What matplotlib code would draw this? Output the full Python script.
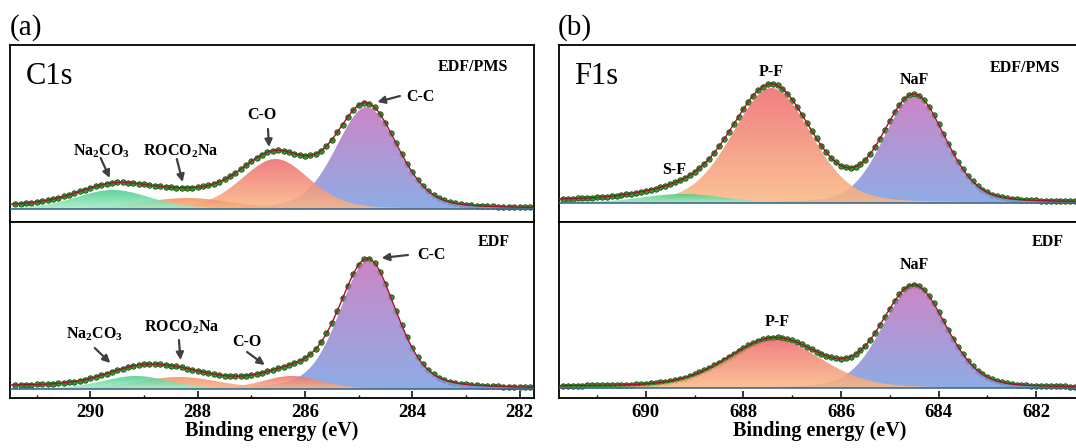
import numpy as np
import matplotlib
matplotlib.use("Agg")
import matplotlib.pyplot as plt
from matplotlib.colors import LinearSegmentedColormap
from matplotlib.ticker import MultipleLocator

plt.rcParams['font.family'] = 'serif'
plt.rcParams['font.serif'] = ['Liberation Serif', 'DejaVu Serif']
plt.rcParams['mathtext.fontset'] = 'custom'
plt.rcParams['mathtext.rm'] = 'Liberation Serif:bold'
plt.rcParams['mathtext.it'] = 'Liberation Serif:bold'
plt.rcParams['mathtext.bf'] = 'Liberation Serif:bold'

# =========================
# Peak fit parameters (counts in arbitrary units)
# =========================
c1s_xlim = (291.5, 281.73)
f1s_xlim = (691.78, 681.1)

# C1s, EDF/PMS
c1s_top_names = ['C-C', 'C-O', 'ROCO2Na', 'Na2CO3']
c1s_top_centers = [284.85, 286.55, 288.2, 289.58]
c1s_top_heights = [102, 50, 11, 19]
c1s_top_fwhm = [1.35, 1.5, 2.0, 1.65]
c1s_top_bg = 3.0

# C1s, EDF
c1s_bot_names = ['C-C', 'C-O', 'ROCO2Na', 'Na2CO3']
c1s_bot_centers = [284.83, 286.25, 288.35, 289.15]
c1s_bot_heights = [128, 13, 12, 13]
c1s_bot_fwhm = [1.25, 1.3, 1.8, 1.5]
c1s_bot_bg = 3.0

# F1s, EDF/PMS
f1s_top_names = ['NaF', 'P-F', 'S-F']
f1s_top_centers = [684.5, 687.42, 689.25]
f1s_top_heights = [106, 115, 9]
f1s_top_fwhm = [1.5, 1.9, 2.0]
f1s_top_bg = 2.5

# F1s, EDF
f1s_bot_names = ['NaF', 'P-F']
f1s_bot_centers = [684.5, 687.35]
f1s_bot_heights = [101, 48]
f1s_bot_fwhm = [1.55, 2.25]
f1s_bot_bg = 1.5

# gradient colours (bottom, top) for each species
grad_colors = {
    'C-C': ('#7c9fe2', '#c472bd'),
    'NaF': ('#7c9fe2', '#c472bd'),
    'C-O': ('#fbb983', '#ee6a6f'),
    'P-F': ('#fbb983', '#ee6a6f'),
    'ROCO2Na': ('#f8b487', '#f3905e'),
    'Na2CO3': ('#a8eccb', '#45cd86'),
    'S-F': ('#a8eccb', '#45cd86'),
}


def pseudo_voigt(E, c, h, w, eta):
    g = np.exp(-4 * np.log(2) * (E - c) ** 2 / w ** 2)
    l = 1.0 / (1 + 4 * (E - c) ** 2 / w ** 2)
    return h * ((1 - eta) * g + eta * l)


def draw_panel(ax, xlim, ylim, names, centers, heights, fwhms, bg_high, eta):
    E = np.linspace(min(xlim), max(xlim), 800)
    comps = [pseudo_voigt(E, c, h, w, eta) for c, h, w in zip(centers, heights, fwhms)]
    total = np.sum(comps, axis=0)
    # Shirley-like background rising towards high binding energy
    cum = np.concatenate([[0], np.cumsum((total[1:] + total[:-1]) / 2 * np.diff(E))])
    bg = bg_high * cum / cum[-1]
    envelope = total + bg

    # measured points every 0.1 eV
    Ed = np.arange(np.ceil(min(xlim) * 10) / 10, max(xlim), 0.1)
    ax.plot(Ed, np.interp(Ed, E, envelope), 'o', ms=3.9, mfc='#2f9a2a',
            mec='#1a531a', mew=0.6, zorder=1)

    grad = np.linspace(0, 1, 256).reshape(-1, 1)
    for name, comp, h in zip(names, comps, heights):
        poly = ax.fill_between(E, 0, comp, facecolor='none', edgecolor='none')
        cmap = LinearSegmentedColormap.from_list(name, grad_colors[name])
        im = ax.imshow(grad, extent=(E.min(), E.max(), 0, comp.max()), origin='lower',
                       aspect='auto', cmap=cmap, alpha=0.86, zorder=2)
        im.set_clip_path(poly.get_paths()[0], transform=ax.transData)

    ax.plot(E, np.zeros_like(E), color='#2f5f8f', lw=1.1, zorder=3)
    ax.plot(E, envelope, color='#a3122a', lw=1.0, zorder=4)
    ax.set_xlim(*xlim)
    ax.set_ylim(*ylim)
    ax.set_yticks([])
    for s in ax.spines.values():
        s.set_linewidth(1.3)


def label(ax, text, xy, xytext=None, ha='center'):
    if xytext is None:
        ax.text(xy[0], xy[1], text, ha=ha, va='center', fontsize=11.5,
                fontweight='bold', zorder=6)
    else:
        ax.annotate('', xy=xy, xytext=xytext, zorder=6,
                    arrowprops=dict(arrowstyle='-|>', color='#404040', lw=1.6,
                                    mutation_scale=11, shrinkA=0, shrinkB=0))


fig = plt.figure(figsize=(10.76, 4.48), dpi=100)
ax_tl = fig.add_axes([0.00929, 0.5045, 0.487, 0.395])
ax_bl = fig.add_axes([0.00929, 0.1116, 0.487, 0.3929])
ax_tr = fig.add_axes([0.5195, 0.5045, 0.4842, 0.395])
ax_br = fig.add_axes([0.5195, 0.1116, 0.4842, 0.3929])

draw_panel(ax_tl, c1s_xlim, (-13, 164), c1s_top_names, c1s_top_centers,
           c1s_top_heights, c1s_top_fwhm, c1s_top_bg, 0.25)
draw_panel(ax_bl, c1s_xlim, (-9, 167), c1s_bot_names, c1s_bot_centers,
           c1s_bot_heights, c1s_bot_fwhm, c1s_bot_bg, 0.3)
draw_panel(ax_tr, f1s_xlim, (-19, 158), f1s_top_names, f1s_top_centers,
           f1s_top_heights, f1s_top_fwhm, f1s_top_bg, 0.2)
draw_panel(ax_br, f1s_xlim, (-10, 166), f1s_bot_names, f1s_bot_centers,
           f1s_bot_heights, f1s_bot_fwhm, f1s_bot_bg, 0.2)

for ax in (ax_tl, ax_tr):
    ax.set_xticks([])
for ax in (ax_bl, ax_br):
    ax.xaxis.set_major_locator(MultipleLocator(2))
    ax.xaxis.set_minor_locator(MultipleLocator(1))
    ax.tick_params(axis='x', which='major', direction='in', length=5, width=1.1,
                   labelsize=13.5, pad=4)
    ax.tick_params(axis='x', which='minor', direction='in', length=2.5, width=1.0)
    for lab in ax.get_xticklabels():
        lab.set_fontweight('bold')
    ax.set_xlabel('Binding energy (eV)', fontsize=14.5, fontweight='bold', labelpad=0)

# C1s annotations
label(ax_tl, 'C-C', (284.12, 112), ha='left')
label(ax_tl, None, (284.65, 107), (284.23, 113))
label(ax_tl, 'C-O', (286.80, 94))
label(ax_tl, None, (286.67, 62), (286.69, 80))
label(ax_tl, r'Na$_2$CO$_3$', (289.79, 58))
label(ax_tl, None, (289.64, 31), (289.81, 51))
label(ax_tl, r'ROCO$_2$Na', (288.31, 58))
label(ax_tl, None, (288.28, 27), (288.39, 50))

label(ax_bl, 'C-C', (283.91, 134), ha='left')
label(ax_bl, None, (284.57, 131), (284.08, 134))
label(ax_bl, 'C-O', (287.08, 47))
label(ax_bl, None, (286.75, 24), (287.08, 37))
label(ax_bl, r'ROCO$_2$Na', (288.30, 62))
label(ax_bl, None, (288.32, 29), (288.35, 49))
label(ax_bl, r'Na$_2$CO$_3$', (289.92, 55))
label(ax_bl, None, (289.63, 26), (289.92, 41))

# F1s annotations
label(ax_tr, 'P-F', (687.42, 131))
label(ax_tr, 'NaF', (684.50, 123))
label(ax_tr, 'S-F', (689.41, 33))
label(ax_br, 'NaF', (684.50, 123))
label(ax_br, 'P-F', (687.31, 66))

# sample labels
for ax, txt, x, y in [(ax_tl, 'EDF/PMS', 0.950, 0.876), (ax_bl, 'EDF', 0.954, 0.886),
                      (ax_tr, 'EDF/PMS', 0.9616, 0.870), (ax_br, 'EDF', 0.969, 0.886)]:
    ax.text(x, y, txt, transform=ax.transAxes, ha='right', va='center',
            fontsize=11.5, fontweight='bold')

ax_tl.text(0.03, 0.82, 'C1s', transform=ax_tl.transAxes, ha='left', va='center', fontsize=22)
ax_tr.text(0.029, 0.82, 'F1s', transform=ax_tr.transAxes, ha='left', va='center', fontsize=22)

fig.text(10 / 1076, 0.9375, '(a)', ha='left', va='center', fontsize=21)
fig.text(558 / 1076, 0.9375, '(b)', ha='left', va='center', fontsize=21)

fig.savefig('out.png', dpi=100)
